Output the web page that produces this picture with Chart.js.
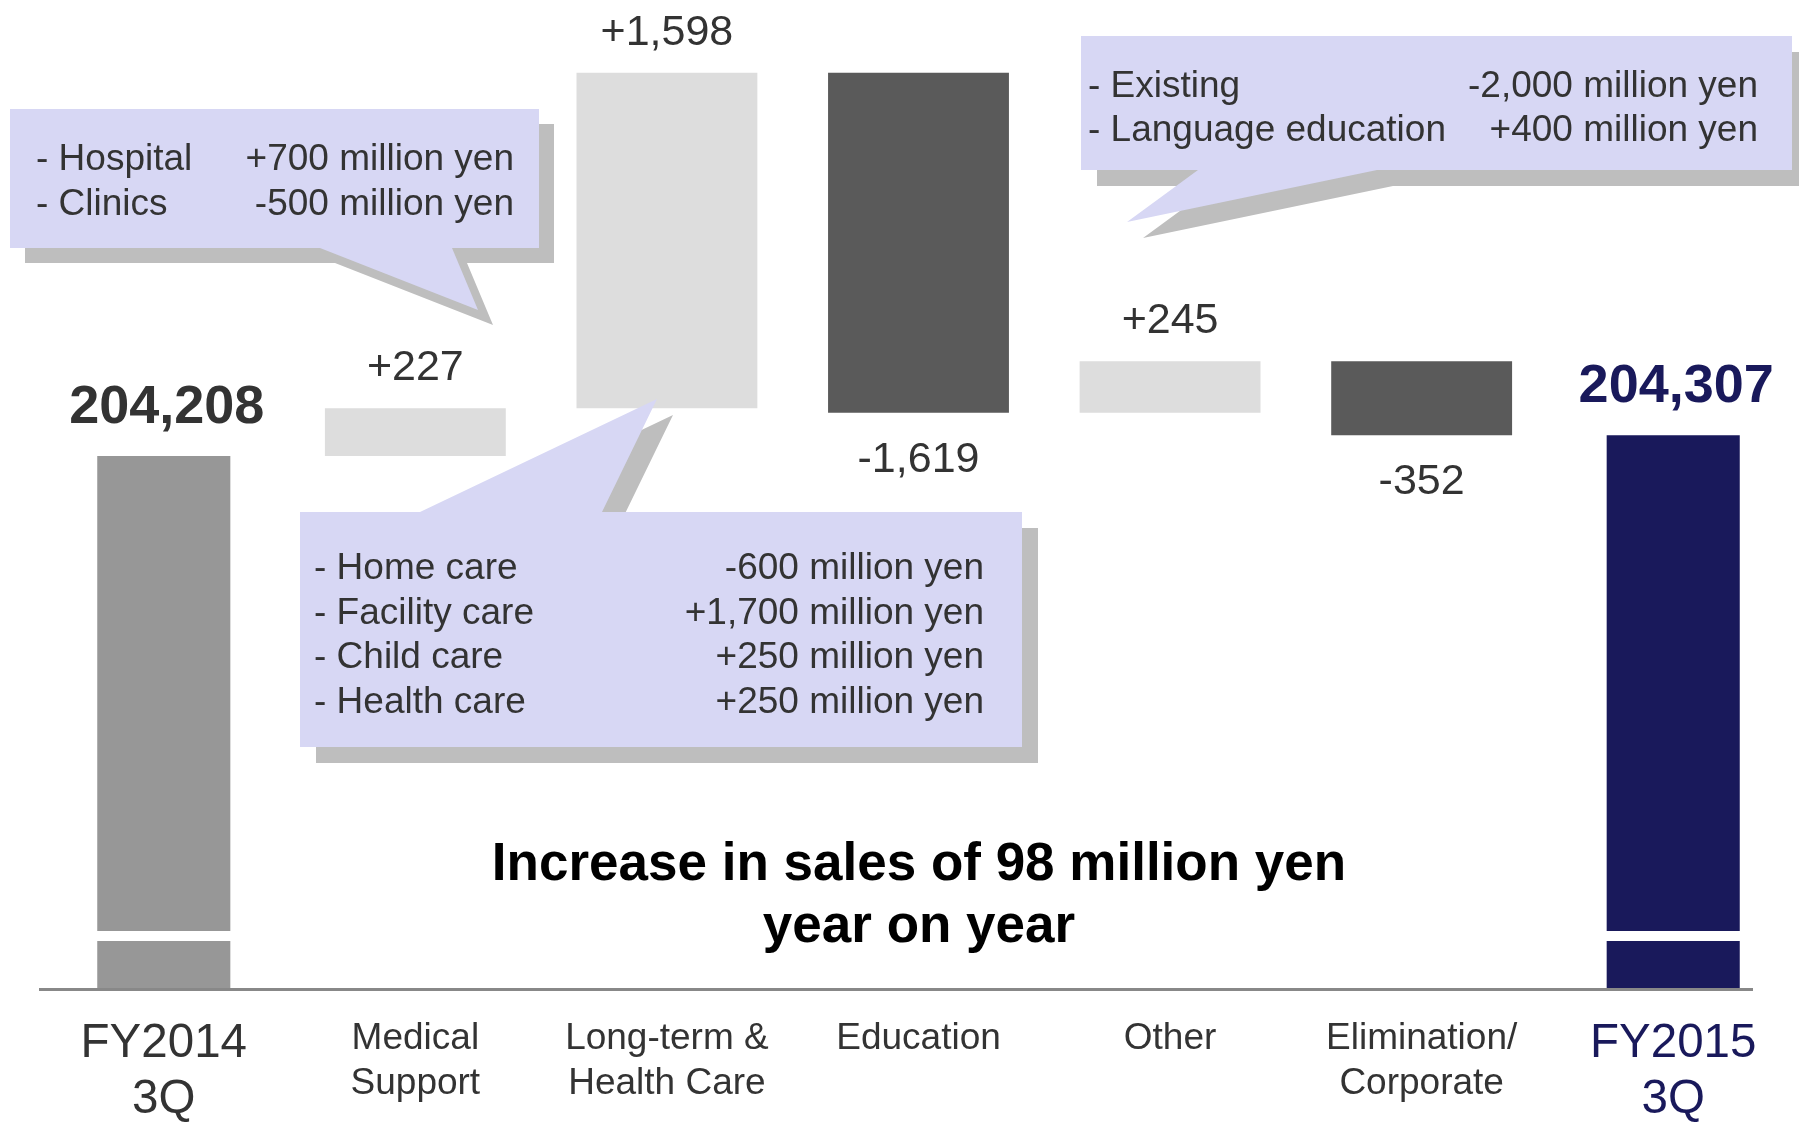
<!DOCTYPE html>
<html lang="en">
<head>
<meta charset="UTF-8">
<title>Sales change by segment</title>
<style>
  html, body { margin: 0; padding: 0; background: #fff; }
  #wrap { width: 1799px; height: 1123px; position: relative; }
</style>
</head>
<body>
<div id="wrap"><canvas id="salesChart"></canvas></div>
<script src="https://cdn.jsdelivr.net/npm/chart.js"></script>
<script>
// --- data (million yen) ---
const categories = [['FY2014', '3Q'], ['Medical', 'Support'], ['Long-term &', 'Health Care'], ['Education'], ['Other'], ['Elimination/', 'Corporate'], ['FY2015', '3Q']];
const totals = [204208, null, null, null, null, null, 204307];
const changes = [null, 227, 1598, -1619, 245, -352, null];

const medicalNotes = [['- Hospital', '+700 million yen'], ['- Clinics', '-500 million yen']];
const careNotes = [['- Home care', '-600 million yen'], ['- Facility care', '+1,700 million yen'], ['- Child care', '+250 million yen'], ['- Health care', '+250 million yen']];
const educationNotes = [['- Existing', '-2,000 million yen'], ['- Language education', '+400 million yen']];
const headline = ['Increase in sales of 98 million yen', 'year on year'];

const FONT = "'Liberation Sans', Arial, sans-serif";
const NAVY = '#19195b';
const TEXT = '#333333';
const totalColors = ['#979797', null, null, null, null, null, NAVY];
const changeColors = [null, '#dddddd', '#dddddd', '#5a5a5a', '#dddddd', '#5a5a5a', null];

// waterfall steps as floating bars
let running = totals[0];
const steps = changes.map(c => {
    if (c === null) return null;
    const from = running;
    running += c;
    return [from, running];
});

function fmtChange(c) {
    return (c > 0 ? '+' : '-') + Math.abs(c).toLocaleString('en-US');
}

// baseline drawn by hand so it can stop short of the right edge
const axisLine = {
    id: 'axisLine',
    afterDatasetsDraw(chart) {
        const { ctx, chartArea } = chart;
        ctx.save();
        ctx.strokeStyle = '#888888';
        ctx.lineWidth = 3;
        ctx.beginPath();
        ctx.moveTo(chartArea.left + 1, chartArea.bottom + 0.5);
        ctx.lineTo(chartArea.right - 46, chartArea.bottom + 0.5);
        ctx.stroke();
        ctx.restore();
    }
};

// white stripe across the total bars (broken axis)
const breakMarks = {
    id: 'breakMarks',
    afterDatasetsDraw(chart) {
        const ctx = chart.ctx;
        const bottom = chart.chartArea.bottom;
        ctx.save();
        ctx.fillStyle = '#ffffff';
        chart.getDatasetMeta(0).data.forEach((bar, i) => {
            if (totals[i] === null) return;
            ctx.fillRect(bar.x - bar.width / 2 - 1, bottom - 58, bar.width + 2, 10);
        });
        ctx.restore();
    }
};

const valueLabels = {
    id: 'valueLabels',
    afterDatasetsDraw(chart) {
        const ctx = chart.ctx;
        ctx.save();
        ctx.textAlign = 'center';
        ctx.textBaseline = 'alphabetic';
        chart.getDatasetMeta(0).data.forEach((bar, i) => {
            if (totals[i] === null) return;
            ctx.font = `bold 54px ${FONT}`;
            ctx.fillStyle = i === totals.length - 1 ? NAVY : TEXT;
            ctx.fillText(totals[i].toLocaleString('en-US'), bar.x + 3, bar.y - 33);
        });
        ctx.font = `43px ${FONT}`;
        ctx.fillStyle = TEXT;
        chart.getDatasetMeta(1).data.forEach((bar, i) => {
            const c = changes[i];
            if (c === null) return;
            const top = Math.min(bar.y, bar.base);
            const bottom = Math.max(bar.y, bar.base);
            if (c > 0) ctx.fillText(fmtChange(c), bar.x, top - 28);
            else ctx.fillText(fmtChange(c), bar.x, bottom + 59);
        });
        ctx.restore();
    }
};

// speech-bubble notes
const bubbles = [
    { box: [10, 109, 539, 248], tail: [[320, 248], [478, 310], [452, 248]], shadow: 15, notes: medicalNotes, left: 36, right: 514, first: 170, gap: 45 },
    { box: [300, 512, 1022, 747], tail: [[420, 512], [657, 399], [602, 512]], shadow: 16, notes: careNotes, left: 314, right: 984, first: 579, gap: 44.7 },
    { box: [1081, 36, 1792, 170], tail: [[1198, 170], [1127, 222], [1377, 170]], shadow: 16, notes: educationNotes, left: 1088, right: 1758, first: 97, gap: 44 }
];

function bubblePath(ctx, b, dx, dy) {
    const [x1, y1, x2, y2] = b.box;
    ctx.beginPath();
    ctx.rect(x1 + dx, y1 + dy, x2 - x1, y2 - y1);
    ctx.moveTo(b.tail[0][0] + dx, b.tail[0][1] + dy);
    ctx.lineTo(b.tail[1][0] + dx, b.tail[1][1] + dy);
    ctx.lineTo(b.tail[2][0] + dx, b.tail[2][1] + dy);
    ctx.closePath();
}

const notesPlugin = {
    id: 'notes',
    afterDraw(chart) {
        const ctx = chart.ctx;
        ctx.save();
        ctx.fillStyle = '#bebebe';
        bubbles.forEach(b => { bubblePath(ctx, b, b.shadow, b.shadow); ctx.fill('nonzero'); });
        ctx.fillStyle = '#d7d7f4';
        bubbles.forEach(b => { bubblePath(ctx, b, 0, 0); ctx.fill('nonzero'); });

        ctx.font = `37px ${FONT}`;
        ctx.fillStyle = TEXT;
        ctx.textBaseline = 'alphabetic';
        bubbles.forEach(b => {
            b.notes.forEach((row, i) => {
                const y = b.first + i * b.gap;
                ctx.textAlign = 'left';
                ctx.fillText(row[0], b.left, y);
                ctx.textAlign = 'right';
                ctx.fillText(row[1], b.right, y);
            });
        });

        // headline
        ctx.font = `bold 53px ${FONT}`;
        ctx.fillStyle = '#000';
        ctx.textAlign = 'center';
        ctx.fillText(headline[0], 919, 880);
        ctx.fillText(headline[1], 919, 942);
        ctx.restore();
    }
};

const ctx = document.getElementById('salesChart').getContext('2d');
new Chart(ctx, {
    type: 'bar',
    data: {
        labels: categories,
        datasets: [
            {
                label: 'Total',
                data: totals,
                backgroundColor: totalColors,
                barPercentage: 0.529,
                categoryPercentage: 1,
                grouped: false
            },
            {
                label: 'Change',
                data: steps,
                backgroundColor: changeColors,
                barPercentage: 0.719,
                categoryPercentage: 1,
                grouped: false
            }
        ]
    },
    options: {
        responsive: true,
        maintainAspectRatio: false,
        animation: false,
        layout: { padding: { left: 38, right: 0, top: 20, bottom: 0 } },
        plugins: {
            legend: { display: false },
            tooltip: { enabled: false }
        },
        scales: {
            x: {
                grid: { display: false, drawTicks: false },
                border: { display: false },
                ticks: {
                    autoSkip: false,
                    maxRotation: 0,
                    padding: 27,
                    color: c => c.index === 6 ? NAVY : TEXT,
                    font: c => (c.index === 0 || c.index === 6)
                        ? { family: FONT, size: 47.5, lineHeight: '56px' }
                        : { family: FONT, size: 37, lineHeight: '45px' }
                },
                afterFit(scale) { scale.height = 134; }
            },
            y: {
                display: false,
                min: 201670,
                max: 206284
            }
        }
    },
    plugins: [axisLine, breakMarks, valueLabels, notesPlugin]
});
</script>
</body>
</html>
